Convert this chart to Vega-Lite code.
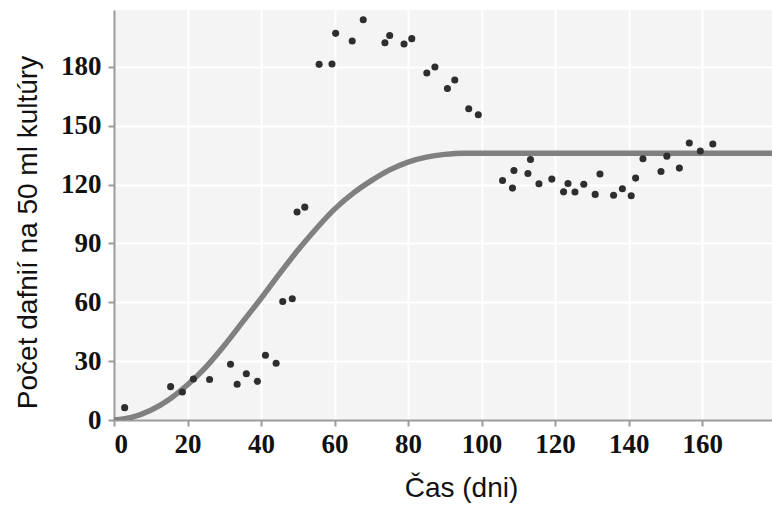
{
  "$schema": "https://vega.github.io/schema/vega-lite/v6.json",
  "width": 658,
  "height": 410,
  "autosize": {"type": "none"},
  "padding": {"left": 114, "top": 10, "right": 0, "bottom": 97},
  "background": "white",
  "config": {
    "view": {"fill": "#f4f4f4", "stroke": null},
    "axis": {
      "gridColor": "#ffffff",
      "gridWidth": 2,
      "gridOpacity": 1,
      "domainColor": "#9a9a9a",
      "domainWidth": 2,
      "tickColor": "#9a9a9a",
      "tickWidth": 2,
      "tickSize": 6,
      "labelFont": "Liberation Serif",
      "labelFontWeight": "bold",
      "labelFontSize": 27,
      "labelColor": "#111111",
      "titleFont": "Liberation Sans",
      "titleFontWeight": "normal",
      "titleFontSize": 28,
      "titleColor": "#111111"
    }
  },
  "datasets": {
    "pts": [
      {"t": 2.9, "n": 6.3}, {"t": 15.4, "n": 17}, {"t": 18.6, "n": 14.3}, {"t": 21.6, "n": 20.9},
      {"t": 26, "n": 20.6}, {"t": 31.7, "n": 28.4}, {"t": 33.5, "n": 18.2}, {"t": 36, "n": 23.6},
      {"t": 39, "n": 19.7}, {"t": 41.2, "n": 33}, {"t": 44.1, "n": 28.9}, {"t": 45.9, "n": 60.4},
      {"t": 48.5, "n": 61.8}, {"t": 49.8, "n": 106}, {"t": 51.9, "n": 108.5}, {"t": 55.8, "n": 181.3},
      {"t": 59.3, "n": 181.5}, {"t": 60.3, "n": 197.1}, {"t": 64.8, "n": 193.2}, {"t": 67.8, "n": 204},
      {"t": 73.7, "n": 192.3}, {"t": 75, "n": 196}, {"t": 78.9, "n": 191.7}, {"t": 81, "n": 194.4},
      {"t": 85.1, "n": 176.9}, {"t": 87.3, "n": 179.9}, {"t": 90.7, "n": 169}, {"t": 92.7, "n": 173.3},
      {"t": 96.5, "n": 158.7}, {"t": 99.1, "n": 155.6}, {"t": 105.7, "n": 122.1}, {"t": 108.4, "n": 118.2},
      {"t": 108.8, "n": 127.2}, {"t": 112.6, "n": 125.7}, {"t": 113.3, "n": 132.8}, {"t": 115.6, "n": 120.4},
      {"t": 119.1, "n": 122.8}, {"t": 122.3, "n": 116.3}, {"t": 123.5, "n": 120.6}, {"t": 125.4, "n": 116.2},
      {"t": 127.8, "n": 120.2}, {"t": 130.9, "n": 115}, {"t": 132.2, "n": 125.4}, {"t": 135.9, "n": 114.6},
      {"t": 138.3, "n": 117.9}, {"t": 140.7, "n": 114.3}, {"t": 141.9, "n": 123.3}, {"t": 143.9, "n": 133.2},
      {"t": 148.8, "n": 126.7}, {"t": 150.4, "n": 134.5}, {"t": 153.8, "n": 128.4}, {"t": 156.5, "n": 141.2},
      {"t": 159.5, "n": 137.1}, {"t": 162.9, "n": 140.7}
    ],
    "curve": [
      {"t": 0, "n": 0}, {"t": 5, "n": 1.5}, {"t": 10, "n": 5}, {"t": 15, "n": 10.5},
      {"t": 20, "n": 18}, {"t": 25, "n": 27}, {"t": 30, "n": 38}, {"t": 35, "n": 50},
      {"t": 40, "n": 62}, {"t": 45, "n": 74.5}, {"t": 50, "n": 86.5}, {"t": 55, "n": 97.5},
      {"t": 60, "n": 107.5}, {"t": 65, "n": 115.5}, {"t": 70, "n": 122}, {"t": 75, "n": 127.5},
      {"t": 80, "n": 131.5}, {"t": 85, "n": 134}, {"t": 90, "n": 135.4}, {"t": 95, "n": 136},
      {"t": 100, "n": 136}, {"t": 179, "n": 136}
    ]
  },
  "encoding": {
    "x": {
      "field": "t", "type": "quantitative",
      "scale": {"domain": [0, 179], "nice": false, "zero": false},
      "axis": {"values": [0, 20, 40, 60, 80, 100, 120, 140, 160], "title": "Čas (dni)", "labelPadding": 5, "titlePadding": 17, "titleX": 347}
    },
    "y": {
      "field": "n", "type": "quantitative",
      "scale": {"domain": [0, 209], "nice": false},
      "axis": {"values": [0, 30, 60, 90, 120, 150, 180], "title": "Počet dafnií na 50 ml kultúry", "labelPadding": 7, "titlePadding": 18, "titleY": 222}
    }
  },
  "layer": [
    {
      "data": {"name": "curve"},
      "mark": {"type": "line", "color": "#808080", "strokeWidth": 5.5, "interpolate": "monotone", "clip": true}
    },
    {
      "data": {"name": "pts"},
      "mark": {"type": "circle", "color": "#2e2e2e", "opacity": 1, "size": 50}
    }
  ]
}
